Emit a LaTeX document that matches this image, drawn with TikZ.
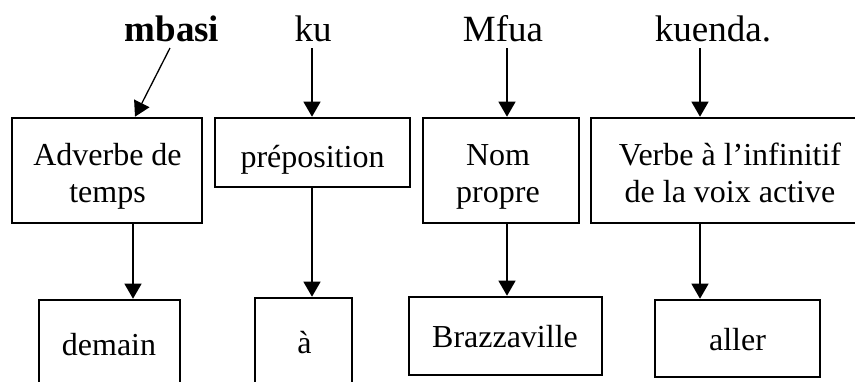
\documentclass[tikz,border=0pt]{standalone}
\usepackage{fontspec}
\setmainfont{Liberation Serif}
\usetikzlibrary{arrows.meta}
\begin{document}
\begin{tikzpicture}[x=1pt,y=-1pt,
 box/.style={draw,line width=2.6pt,inner sep=0pt},
 txt/.style={inner sep=0pt,align=center,font=\fontsize{32}{37}\selectfont},
 word/.style={font=\fontsize{37}{42}\selectfont,inner sep=0pt,anchor=base},
 arr/.style={line width=1.3pt,-{Triangle[length=15pt,width=17pt]}}]
\useasboundingbox (0,0) rectangle (855,381);
% words
\node[word,font=\fontsize{37}{42}\selectfont\bfseries] (w1) at (172,41) {mbasi};
\node[word] (w2) at (313,41) {ku};
\node[word] (w3) at (503,41) {Mfua};
\node[word] (w4) at (713,41) {kuenda.};
% arrow x positions
\coordinate (x1) at (133,0);
\coordinate (x2) at (312,0);
\coordinate (x3) at (507,0);
\coordinate (x4) at (700,0);
% first row boxes
\node[box,minimum width=190pt,minimum height=105pt] (b1) at (107,170.5) {};
\node[box,minimum width=195pt,minimum height=69pt] (b2) at (312.5,152.5) {};
\node[box,minimum width=156pt,minimum height=105pt] (b3) at (501,170.5) {};
\node[box,minimum width=278pt,minimum height=105pt] (b4) at (730,170.5) {};
\node[txt] (t1) at (107.5,176.1) {\strut Adverbe de\\\strut temps};
\node[txt] (t2) at (312.5,159.6) {\strut préposition};
\node[txt] (t3) at (498,176.1) {\strut Nom\\\strut propre};
\node[txt] (t4) at (730,176.1) {\strut Verbe à l’infinitif\\\strut de la voix active};
% second row boxes
\node[box,minimum width=141pt,minimum height=94pt] (d1) at (109.5,347) {};
\node[box,minimum width=97pt,minimum height=98pt] (d2) at (303.5,347) {};
\node[box,minimum width=193pt,minimum height=78pt] (d3) at (505.5,336) {};
\node[box,minimum width=165pt,minimum height=77pt] (d4) at (737.5,338.5) {};
\node[txt] (e1) at (109,347.6) {\strut demain};
\node[txt] (e2) at (304.5,345.6) {\strut à};
\node[txt] (e3) at (505,339.6) {\strut Brazzaville};
\node[txt] (e4) at (737.5,342.6) {\strut aller};
% arrows word -> category
\draw[arr] ([xshift=-2pt,yshift=-7pt]w1.base) -- ([xshift=2pt]b1.north -| x1);
\draw[arr] ([yshift=-7pt]w2.base -| x2) -- (b2.north -| x2);
\draw[arr] ([yshift=-7pt]w3.base -| x3) -- (b3.north -| x3);
\draw[arr] ([yshift=-7pt]w4.base -| x4) -- (b4.north -| x4);
% arrows category -> translation
\draw[arr] (b1.south -| x1) -- (d1.north -| x1);
\draw[arr] (b2.south -| x2) -- (d2.north -| x2);
\draw[arr] (b3.south -| x3) -- (d3.north -| x3);
\draw[arr] (b4.south -| x4) -- (d4.north -| x4);
\end{tikzpicture}
\end{document}
